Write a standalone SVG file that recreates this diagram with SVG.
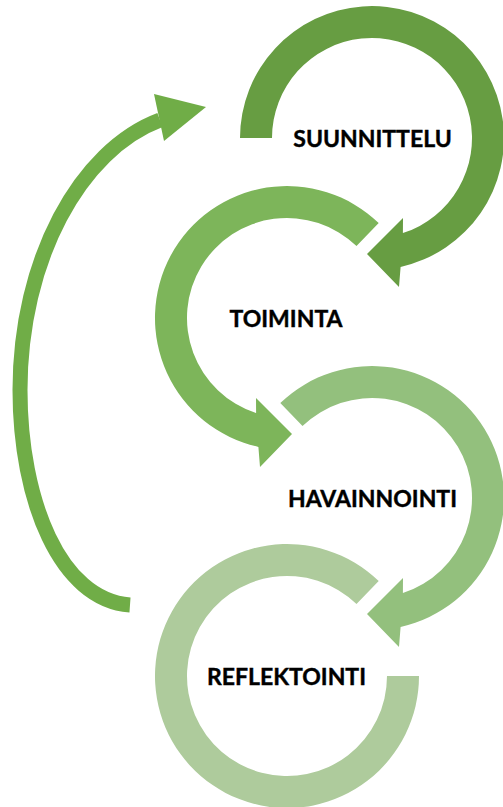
<svg xmlns="http://www.w3.org/2000/svg" width="503" height="807" viewBox="0 0 503 807">
  <style>
    .label { font-family: Lato, "Open Sans", "Liberation Sans", sans-serif; font-weight: bold; font-size: 23px; fill: #000000; stroke: #000000; stroke-width: 0.4px; text-anchor: middle; }
    .c1 { fill: #679d42; }
    .c2 { fill: #7db55a; }
    .c3 { fill: #93c07d; }
    .c4 { fill: #aecb9c; }
  </style>
  <defs>
    <!-- ring with arrowhead, starting at the left (180deg), running clockwise -->
    <path id="ringFromLeft" d="M-132,0 A132,132 0 1 1 28.6,128.9 L27,149 L-5,116 L31,80 L30.9,95.1 A100,100 0 1 0 -100,0 Z"/>
    <!-- ring with arrowhead, starting at upper left (226deg), running clockwise -->
    <path id="ringFromUpperLeft" d="M-91.7,-94.9 A132,132 0 1 1 28.6,128.9 L27,149 L-5,116 L31,80 L30.9,95.1 A100,100 0 1 0 -69.5,-71.9 Z"/>
  </defs>

  <g id="connectors">
    <path d="M130,605 C60,600 20,500 20,390 C20,260 80,150 160,120" fill="none" stroke="#70ad47" stroke-width="15"/>
    <polygon points="154,94 206,107 164,141" fill="#70ad47"/>
  </g>

  <g id="suunnittelu">
    <use href="#ringFromLeft" class="c1" transform="translate(372,138)"/>
    <text class="label" x="372.5" y="147">SUUNNITTELU</text>
  </g>

  <g id="toiminta">
    <use href="#ringFromUpperLeft" class="c2" transform="translate(287,318) scale(-1,1)"/>
    <text class="label" x="286" y="327">TOIMINTA</text>
  </g>

  <g id="havainnointi">
    <use href="#ringFromUpperLeft" class="c3" transform="translate(372,498)"/>
    <text class="label" x="372.5" y="507">HAVAINNOINTI</text>
  </g>

  <g id="reflektointi">
    <path class="c4" transform="translate(287,676)" d="M91.7,-94.9 A132,132 0 1 0 132,0 L100,0 A100,100 0 1 1 69.5,-71.9 Z"/>
    <text class="label" x="286.5" y="685">REFLEKTOINTI</text>
  </g>
</svg>
